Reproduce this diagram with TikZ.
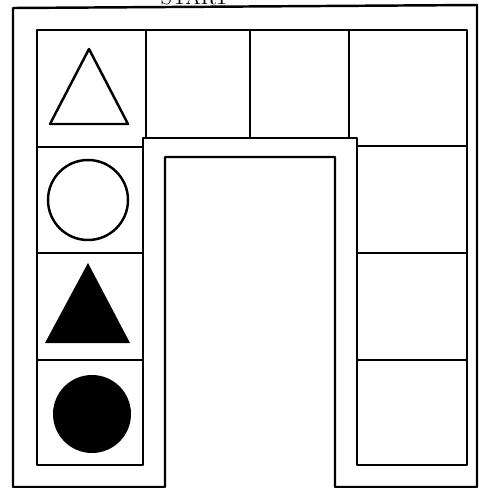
\documentclass[tikz,border=0pt]{standalone}
\begin{document}
\begin{tikzpicture}[x=0.02cm, y=-0.02cm, line width=1.4pt, line join=round]
  \useasboundingbox (0,0) rectangle (479,488);
  % title, cut off at the top edge
  \node[anchor=base, font=\large, inner sep=0pt] (title) at (195,4) {START};
  % outer frame — goes up round the middle block
  \draw (13,8) -- (477,5) -- (477,487) -- (335,487) -- (335,157)
        -- (165,157) -- (165,487) -- (13,487) -- cycle;
  % inner frame of the cells
  \draw (37,30) -- (467,30) -- (467,465) -- (357,465) -- (357,138)
        -- (143,138) -- (143,465) -- (37,465) -- cycle;
  % top row — three dividers
  \foreach \x in {146, 250, 349} { \draw (\x,30) -- (\x,138); }
  \draw (37,147) -- (143,147);
  \draw (357,146) -- (467,146);
  % left and right columns — row lines
  \foreach \y in {253, 360} {
    \draw (37,\y) -- (143,\y);
    \draw (357,\y) -- (467,\y);
  }
  % symbols in the left column
  \draw (89,49) -- (128,124) -- (50,124) -- cycle;
  \draw (88,200) circle (40);
  \fill (88,263) -- (130,343) -- (45,343) -- cycle;
  \fill (92,414) circle (39);
\end{tikzpicture}
\end{document}
